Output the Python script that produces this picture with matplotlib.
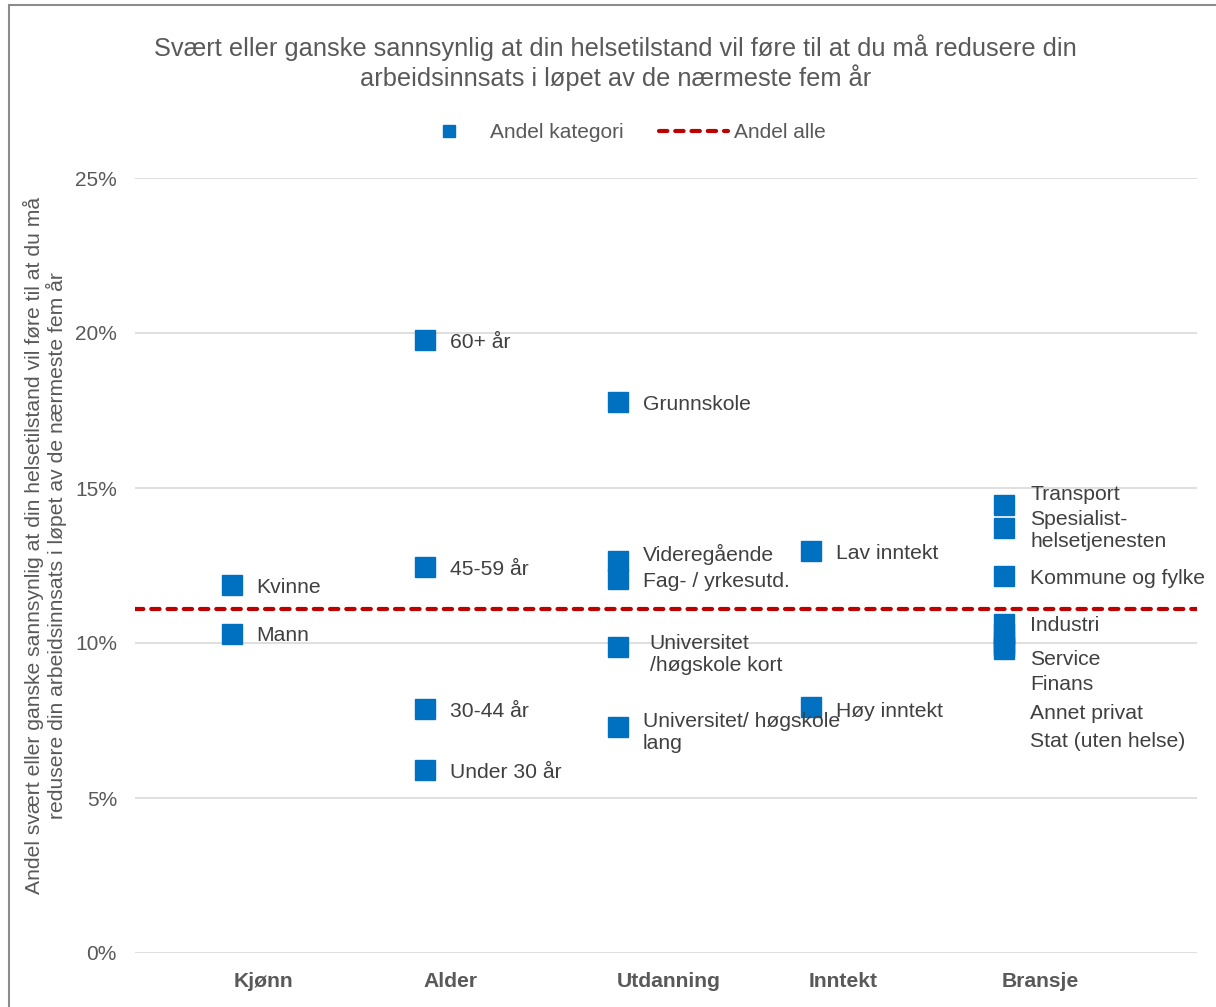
import matplotlib.pyplot as plt
from matplotlib.lines import Line2D
from matplotlib.patches import Rectangle

plt.rcParams['font.family'] = ['Liberation Sans', 'DejaVu Sans']

# data (percent)
groups = ['Kjønn', 'Alder', 'Utdanning', 'Inntekt', 'Bransje']
labels = [
    ['Kvinne', 'Mann'],
    ['60+ år', '45-59 år', '30-44 år', 'Under 30 år'],
    ['Grunnskole', 'Videregående', 'Fag- / yrkesutd.',
     'Universitet\n/høgskole kort', 'Universitet/ høgskole\nlang'],
    ['Lav inntekt', 'Høy inntekt'],
    ['Transport', 'Spesialist-\nhelsetjenesten', 'Kommune og fylke', 'Industri',
     'Service', 'Finans', 'Annet privat', 'Stat (uten helse)'],
]
values = [
    [11.87, 10.3],
    [19.77, 12.45, 7.87, 5.9],
    [17.77, 12.65, 12.06, 9.87, 7.29],
    [12.97, 7.94],
    [14.45, 13.71, 12.16, 10.6, 10.3, 10.0, 9.9, 9.8],
]
andel_alle = 11.1

# layout: where the data labels sit (percent units) and their x offsets (pt)
label_y = [
    [11.85, 10.3],
    [19.75, 12.42, 7.84, 5.87],
    [17.74, 12.9, 12.03, 9.68, 7.16],
    [12.94, 7.85],
    [14.84, 13.67, 12.13, 10.62, 9.52, 8.71, 7.77, 6.87],
]
label_dx = [
    [18, 18],
    [18, 18, 18, 18],
    [18, 18, 18, 23, 18],
    [18, 18],
    [19, 19, 19, 19, 19, 19, 19, 19],
]
tick_x = [0.663, 1.636, 2.766, 3.667, 4.687]

blue = '#0070C0'
red = '#C00000'
grey = '#595959'
txt = '#404040'

fig = plt.figure(figsize=(12.16, 10.07), dpi=100)
ax = fig.add_axes([135 / 1216, 54 / 1007, 1062 / 1216, 775 / 1007])

for i, (labs, vals) in enumerate(zip(labels, values)):
    xs = [i + 0.5] * len(vals)
    ax.plot(xs, vals, 's', color=blue, markersize=13.7, zorder=3, linestyle='none')
    for lab, ly, dx in zip(labs, label_y[i], label_dx[i]):
        ax.annotate(lab, (i + 0.5, ly), xytext=(dx, -1.2), textcoords='offset points',
                    ha='left', va='center', fontsize=15.2, color=txt, linespacing=1.2,
                    zorder=4)

ax.axhline(andel_alle, color=red, lw=3, dashes=(2.0, 1.9), dash_capstyle='round',
           zorder=2)

ax.set_xlim(0, 5.5)
ax.set_ylim(0, 25)
ax.set_yticks([0, 5, 10, 15, 20, 25])
ax.set_yticklabels(['0%', '5%', '10%', '15%', '20%', '25%'], fontsize=15, color=grey)
ax.set_xticks(tick_x)
ax.set_xticklabels(groups, fontsize=15.2, fontweight='bold', color=grey)
ax.tick_params(axis='both', length=0)
ax.tick_params(axis='y', pad=13)
ax.tick_params(axis='x', pad=14)
ax.grid(axis='y', color='#D9D9D9', lw=1.2)
ax.set_axisbelow(True)
for s in ax.spines.values():
    s.set_visible(False)

fig.text(0.506, 0.966,
         'Svært eller ganske sannsynlig at din helsetilstand vil føre til at du må redusere din\n'
         'arbeidsinnsats i løpet av de nærmeste fem år',
         ha='center', va='top', fontsize=18.3, color=grey, linespacing=1.15)

fig.text(0.037, 0.458,
         'Andel svært eller ganske sannsynlig at din helsetilstand vil føre til at du må\n'
         'redusere din arbeidsinnsats i løpet av de nærmeste fem år',
         rotation=90, ha='center', va='center', fontsize=15.2, color=grey,
         linespacing=1.08)

handles = [
    Line2D([], [], marker='s', color=blue, linestyle='none', markersize=8),
    Line2D([], [], color=red, lw=3, dashes=(2.0, 1.9), dash_capstyle='round'),
]
fig.legend(handles, ['Andel kategori', 'Andel alle'], loc='center',
           bbox_to_anchor=(0.51, 0.868), ncol=2, frameon=False, fontsize=15,
           labelcolor=grey, handlelength=3.3, handletextpad=0.3, columnspacing=1.7)

fig.add_artist(Rectangle((9 / 1216, -0.05), 1.1, 1 - 5 / 1007 + 0.05,
                         transform=fig.transFigure, fill=False,
                         edgecolor='#8C8C8C', lw=1.5))

fig.savefig('out.png', dpi=100)
